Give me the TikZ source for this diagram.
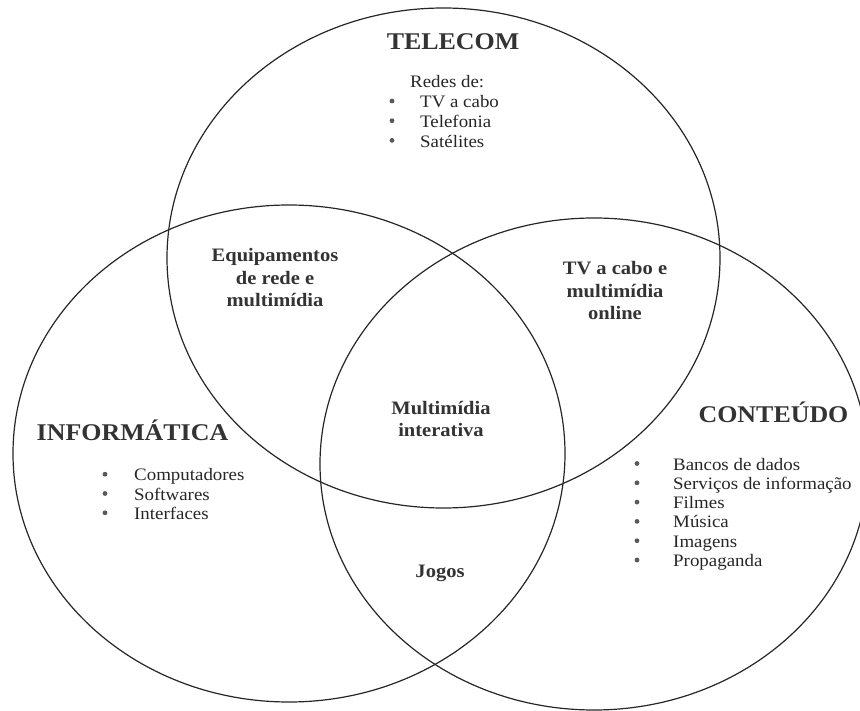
\documentclass[tikz,border=0pt]{standalone}
\usepackage{fontspec}
\setmainfont{Liberation Serif}[FakeStretch=1.08]
\usetikzlibrary{positioning}

\tikzset{
  area/.style={draw=black!85, line width=1.2pt},
  title/.style={font=\bfseries\fontsize{24}{28}\selectfont, text=black!80, inner sep=0pt, anchor=base},
  overlap/.style={font=\bfseries\fontsize{19}{22.5}\selectfont, text=black!80, inner sep=0pt, anchor=base},
  entry/.style={font=\fontsize{17.5}{19.7}\selectfont, text=black!85, inner sep=0pt, anchor=base west},
  dot/.style={fill=black!65}
}
% stacked lines, baseline on the first one
\newcommand{\rows}[1]{\begin{tabular}[t]{@{}c@{}}#1\end{tabular}}

\begin{document}
\begin{tikzpicture}[x=1pt, y=-1pt]
  \useasboundingbox (0,0) rectangle (860,711);
  \clip (0,0) rectangle (860,711);

  % the three sectors
  \draw[area] (443.5,258) ellipse [x radius=276.5, y radius=250];
  \draw[area] (289,453.5) ellipse [x radius=276, y radius=248.5];
  \draw[area] (594,464) ellipse [x radius=274, y radius=246];

  % sector titles
  \node[title] (telecom) at (453,50) {TELECOM};
  \node[title] (informatica) at (132.5,440) {INFORMÁTICA};
  \node[title] (conteudo) at (773.5,422) {CONTEÚDO};

  % telecom list
  \node[entry] (redes) at (410,88) {Redes de:};
  \foreach \txt [count=\i] in {TV a cabo, Telefonia, Satélites} {
    \node[entry] (tel\i) at (420,88+19.7*\i) {\txt};
    \fill[dot] (392,81.3+19.7*\i) circle [radius=2.4];
  }

  % informatica list
  \foreach \txt [count=\i] in {Computadores, Softwares, Interfaces} {
    \node[entry] (inf\i) at (134,461.4+19.3*\i) {\txt};
    \fill[dot] (105,454.9+19.3*\i) circle [radius=2.4];
  }

  % conteudo list
  \foreach \txt [count=\i] in {Bancos de dados, Serviços de informação, Filmes,
      Música, Imagens, Propaganda} {
    \node[entry] (con\i) at (673,450.7+19.3*\i) {\txt};
    \fill[dot] (637,444.2+19.3*\i) circle [radius=2.4];
  }

  % overlaps
  \node[overlap] (equip) at (275,262) {\rows{Equipamentos\\de rede e\\multimídia}};
  \node[overlap] (tvcabo) at (615,275) {\rows{TV a cabo e\\multimídia\\online}};
  \node[overlap] (multi) at (441,414) {\rows{Multimídia\\interativa}};
  \node[overlap] (jogos) at (440,577) {Jogos};
\end{tikzpicture}
\end{document}
